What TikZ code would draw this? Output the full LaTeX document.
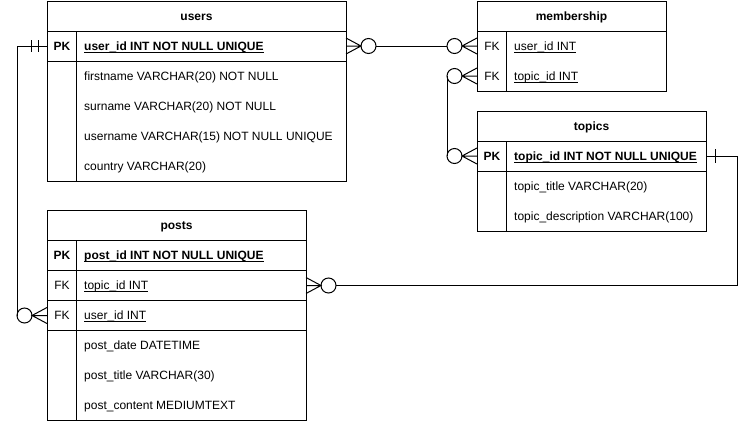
\documentclass[tikz,border=0pt]{standalone}
\usepackage{fontspec}
\setmainfont{Liberation Sans}
\usetikzlibrary{positioning}
\newcommand{\keyul}[1]{\underline{\smash{#1}}}

\begin{document}
\begin{tikzpicture}[x=1pt, y=-1pt,
    box/.style={draw, line width=1pt, inner sep=0pt, outer sep=0pt, minimum height=30pt},
    row/.style={inner sep=0pt, outer sep=0pt, minimum height=30pt},
    txt/.style={inner sep=0pt, text height=8.6pt, text depth=0pt, font=\fontsize{12}{14}\selectfont},
    head/.style={box, txt, font=\fontsize{12}{14}\selectfont\bfseries},
    key/.style={txt},
    field/.style={txt, anchor=west},
    opt/.style={circle, draw, line width=1pt, fill=white, minimum size=15pt, inner sep=0pt, outer sep=0pt},
    conn/.style={line width=1pt}]
    \useasboundingbox (0,0) rectangle (754,421);

    % users table
    \node[head, minimum width=299pt, anchor=north west] (users) at (47,1) {users};
    \node[box, minimum width=299pt, below=0pt of users] (users-pk) {};
    \node[box, minimum width=299pt, minimum height=120pt, below=0pt of users-pk] (users-body) {};
    \draw[conn] ([xshift=29.5pt]users-pk.north west) -- ([xshift=29.5pt]users-body.south west);
    \node[key] (users-pk-k) at ([xshift=15pt]users-pk.west) {\bfseries PK};
    \node[field] (users-pk-f) at ([xshift=37pt]users-pk.west) {\bfseries\keyul{user\_id INT NOT NULL UNIQUE}};
    \foreach \f [count=\i] in {firstname VARCHAR(20) NOT NULL, surname VARCHAR(20) NOT NULL, username VARCHAR(15) NOT NULL UNIQUE, country VARCHAR(20)} {
      \node[field] (users-f\i) at ([xshift=37pt, yshift={15pt-30pt*\i}]users-body.north west) {\f};
    }

    % membership table
    \node[head, minimum width=189pt, anchor=north west] (memb) at (477,1) {membership};
    \node[box, minimum width=189pt, minimum height=60pt, below=0pt of memb] (memb-body) {};
    \node[row, minimum width=189pt, anchor=north] (memb-uid) at (memb-body.north) {};
    \node[row, minimum width=189pt, below=0pt of memb-uid] (memb-tid) {};
    \draw[conn] ([xshift=29.5pt]memb-body.north west) -- ([xshift=29.5pt]memb-body.south west);
    \node[key] (memb-uid-k) at ([xshift=15pt]memb-uid.west) {FK};
    \node[field] (memb-uid-f) at ([xshift=37pt]memb-uid.west) {\keyul{user\_id INT}};
    \node[key] (memb-tid-k) at ([xshift=15pt]memb-tid.west) {FK};
    \node[field] (memb-tid-f) at ([xshift=37pt]memb-tid.west) {\keyul{topic\_id INT}};

    % topics table
    \node[head, minimum width=229pt, anchor=north west] (topics) at (477,111) {topics};
    \node[box, minimum width=229pt, below=0pt of topics] (topics-pk) {};
    \node[box, minimum width=229pt, minimum height=60pt, below=0pt of topics-pk] (topics-body) {};
    \draw[conn] ([xshift=29.5pt]topics-pk.north west) -- ([xshift=29.5pt]topics-body.south west);
    \node[key] (topics-pk-k) at ([xshift=15pt]topics-pk.west) {\bfseries PK};
    \node[field] (topics-pk-f) at ([xshift=37pt]topics-pk.west) {\bfseries\keyul{topic\_id INT NOT NULL UNIQUE}};
    \foreach \f [count=\i] in {topic\_title VARCHAR(20), topic\_description VARCHAR(100)} {
      \node[field] (topics-f\i) at ([xshift=37pt, yshift={15pt-30pt*\i}]topics-body.north west) {\f};
    }

    % posts table
    \node[head, minimum width=259pt, anchor=north west] (posts) at (47,210.5) {posts};
    \node[box, minimum width=259pt, below=0pt of posts] (posts-pk) {};
    \node[box, minimum width=259pt, below=0pt of posts-pk] (posts-tid) {};
    \node[box, minimum width=259pt, below=0pt of posts-tid] (posts-uid) {};
    \node[box, minimum width=259pt, minimum height=90pt, below=0pt of posts-uid] (posts-body) {};
    \draw[conn] ([xshift=29.5pt]posts-pk.north west) -- ([xshift=29.5pt]posts-body.south west);
    \node[key] (posts-pk-k) at ([xshift=15pt]posts-pk.west) {\bfseries PK};
    \node[field] (posts-pk-f) at ([xshift=37pt]posts-pk.west) {\bfseries\keyul{post\_id INT NOT NULL UNIQUE}};
    \node[key] (posts-tid-k) at ([xshift=15pt]posts-tid.west) {FK};
    \node[field] (posts-tid-f) at ([xshift=37pt]posts-tid.west) {\keyul{topic\_id INT}};
    \node[key] (posts-uid-k) at ([xshift=15pt]posts-uid.west) {FK};
    \node[field] (posts-uid-f) at ([xshift=37pt]posts-uid.west) {\keyul{user\_id INT}};
    \foreach \f [count=\i] in {post\_date DATETIME, post\_title VARCHAR(30), post\_content MEDIUMTEXT} {
      \node[field] (posts-f\i) at ([xshift=37pt, yshift={15pt-30pt*\i}]posts-body.north west) {\f};
    }

    % users -- membership
    \node[opt, right=15pt of users-pk.east] (users-pk-o) {};
    \node[opt, left=15pt of memb-uid.west] (memb-uid-o) {};
    \draw[conn] (users-pk-o) -- (memb-uid-o);
    \draw[conn] ([yshift=8pt]users-pk.east) -- (users-pk-o.west) -- ([yshift=-8pt]users-pk.east) (users-pk.east) -- (users-pk-o.west);
    \draw[conn] ([yshift=8pt]memb-uid.west) -- (memb-uid-o.east) -- ([yshift=-8pt]memb-uid.west) (memb-uid.west) -- (memb-uid-o.east);

    % membership -- topics
    \node[opt, left=15pt of memb-tid.west] (memb-tid-o) {};
    \node[opt, left=15pt of topics-pk.west] (topics-pk-o) {};
    \draw[conn] (memb-tid-o.west) -- (topics-pk-o.west);
    \draw[conn] ([yshift=8pt]memb-tid.west) -- (memb-tid-o.east) -- ([yshift=-8pt]memb-tid.west) (memb-tid.west) -- (memb-tid-o.east);
    \draw[conn] ([yshift=8pt]topics-pk.west) -- (topics-pk-o.east) -- ([yshift=-8pt]topics-pk.west) (topics-pk.west) -- (topics-pk-o.east);

    % topics -- posts
    \node[opt, right=15pt of posts-tid.east] (posts-tid-o) {};
    \coordinate (topics-turn) at ([xshift=31pt]topics-pk.east);
    \draw[conn] (topics-pk.east) -- (topics-turn) |- (posts-tid-o);
    \draw[conn] ([xshift=9pt, yshift=7pt]topics-pk.east) -- ([xshift=9pt, yshift=-7pt]topics-pk.east);
    \draw[conn] ([yshift=8pt]posts-tid.east) -- (posts-tid-o.west) -- ([yshift=-8pt]posts-tid.east) (posts-tid.east) -- (posts-tid-o.west);

    % users -- posts
    \node[opt, left=15pt of posts-uid.west] (posts-uid-o) {};
    \draw[conn] (users-pk.west) -| (posts-uid-o.west);
    \draw[conn] ([xshift=-9pt, yshift=6pt]users-pk.west) -- ([xshift=-9pt, yshift=-6pt]users-pk.west);
    \draw[conn] ([xshift=-16pt, yshift=6pt]users-pk.west) -- ([xshift=-16pt, yshift=-6pt]users-pk.west);
    \draw[conn] ([yshift=8pt]posts-uid.west) -- (posts-uid-o.east) -- ([yshift=-8pt]posts-uid.west) (posts-uid.west) -- (posts-uid-o.east);

\end{tikzpicture}
\end{document}
